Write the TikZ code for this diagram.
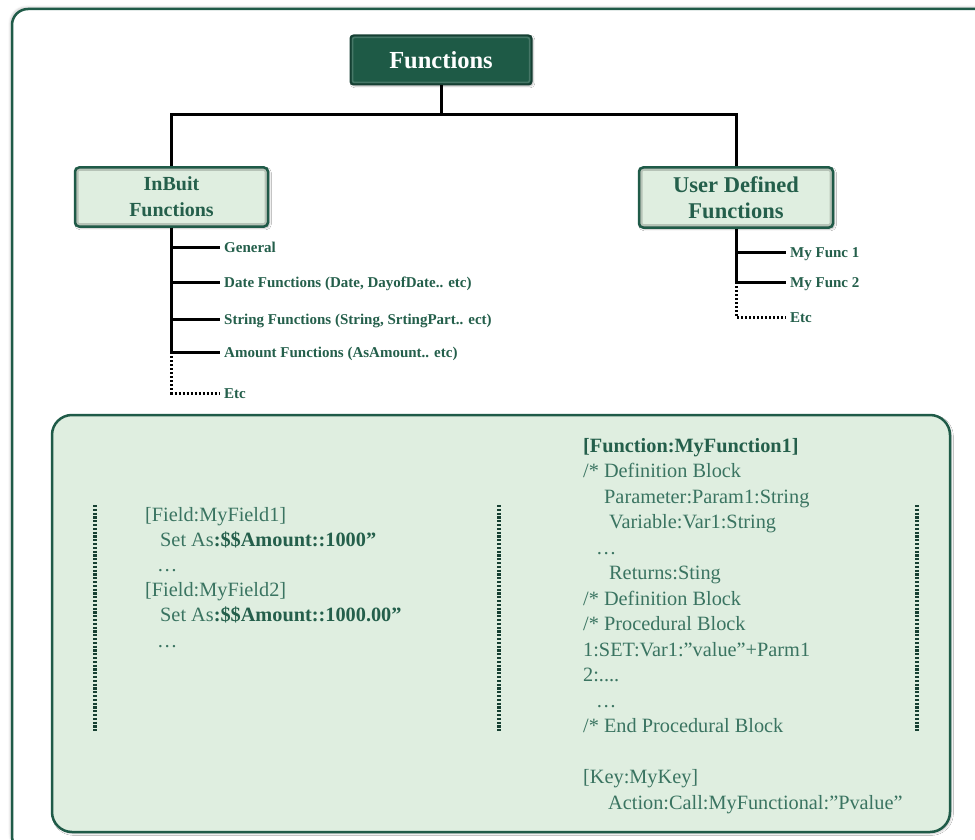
\documentclass[tikz,border=0pt]{standalone}
\usepackage{fontspec}
\setmainfont{Liberation Serif}
\usetikzlibrary{calc,shadows.blur}

\definecolor{framegreen}{HTML}{1F5B48}
\definecolor{rootfill}{HTML}{1E5A46}
\definecolor{rootedge}{HTML}{163F33}
\definecolor{paleleaf}{HTML}{DFEEE0}
\definecolor{codetext}{HTML}{3A7461}
\definecolor{boldtext}{HTML}{245F4B}

\begin{document}
\begin{tikzpicture}[x=1pt,y=-1pt,
  rootbox/.style={draw=rootedge, fill=rootfill, line width=2pt, rounded corners=3pt,
    minimum width=181pt, minimum height=49pt, inner sep=0pt, text=white,
    font=\bfseries\fontsize{24.5}{28}\selectfont,
    blur shadow={shadow xshift=1.5pt, shadow yshift=-1.5pt, shadow opacity=30}},
  groupbox/.style={draw=framegreen, fill=paleleaf, line width=2.5pt, rounded corners=4pt,
    inner sep=0pt, text=boldtext, align=center,
    blur shadow={shadow xshift=1.5pt, shadow yshift=-1.5pt, shadow opacity=30}},
  bevel/.style={draw=black, draw opacity=0.18, line width=2.5pt, rounded corners=2pt},
  highlight/.style={draw=white, draw opacity=0.18, line width=1.5pt, rounded corners=2pt},
  treeline/.style={draw=black, line width=3pt},
  dotline/.style={draw=black, line width=3pt, dash pattern=on 2.2pt off 1.8pt},
  panelsep/.style={draw=framegreen!70!black, line width=3.2pt, dash pattern=on 2.2pt off 1.6pt},
  leaf/.style={anchor=west, inner xsep=4pt, inner ysep=0pt, text height=11pt, text depth=1pt,
    text=boldtext, font=\bfseries\fontsize{15}{18}\selectfont},
  codeline/.style={anchor=base west, inner sep=0pt, text=codetext, font=\fontsize{20.3}{24}\selectfont},
  codebold/.style={text=boldtext, font=\bfseries\fontsize{20.3}{24}\selectfont}
]
\useasboundingbox (0,0) rectangle (975,840);

% outer frame
\path[draw=framegreen, fill=white, line width=2.5pt, rounded corners=16pt,
  blur shadow={shadow xshift=-2pt, shadow yshift=2pt, shadow opacity=18}]
  (12,9) rectangle (995,852);

% hierarchy boxes
\node[rootbox] (root) at (441,60) {Functions};
\draw[highlight] ([shift={(3,3)}]root.north west) rectangle ([shift={(-3,-3)}]root.south east);

\node[groupbox, minimum width=193pt, minimum height=59pt,
  font=\bfseries\fontsize{20}{26}\selectfont] (inbuilt) at (171.5,197) {InBuit\\Functions};
\draw[bevel] ([shift={(3.5,3.5)}]inbuilt.north west) rectangle ([shift={(-3.5,-3.5)}]inbuilt.south east);

\node[groupbox, minimum width=194pt, minimum height=60pt,
  font=\bfseries\fontsize{22.5}{26}\selectfont] (user) at (736,197.5) {User Defined\\Functions};
\draw[bevel] ([shift={(3.5,3.5)}]user.north west) rectangle ([shift={(-3.5,-3.5)}]user.south east);

% root to groups
\coordinate (hub) at (441,115);
\draw[treeline] (root.south) -- (hub);
\draw[treeline] (hub) -| (inbuilt.north);
\draw[treeline] (hub) -| (user.north);

% in-built function list
\node[leaf] (gen)  at (220,247) {General};
\node[leaf] (date) at (220,282) {Date Functions (Date, DayofDate.. etc)};
\node[leaf] (str)  at (220,319) {String Functions (String, SrtingPart.. ect)};
\node[leaf] (amt)  at (220,352) {Amount Functions (AsAmount.. etc)};
\node[leaf] (etc1) at (220,393) {Etc};
\draw[treeline] (inbuilt.south) |- (gen.west);
\draw[treeline] (inbuilt.south) |- (date.west);
\draw[treeline] (inbuilt.south) |- (str.west);
\draw[treeline] (inbuilt.south) |- (amt.west);
\draw[dotline] ($(inbuilt.south |- amt.west)+(0,4)$) |- (etc1.west);

% user defined function list
\node[leaf] (uf1)  at (786,252) {My Func 1};
\node[leaf] (uf2)  at (786,282) {My Func 2};
\node[leaf] (etc2) at (786,317) {Etc};
\draw[treeline] (user.south) |- (uf1.west);
\draw[treeline] (user.south) |- (uf2.west);
\draw[dotline] ($(user.south |- uf2.west)+(0,4)$) |- (etc2.west);

% code panel
\path[draw=framegreen, fill=paleleaf, line width=2.5pt, rounded corners=20pt,
  blur shadow={shadow xshift=1.5pt, shadow yshift=-1.5pt, shadow opacity=25}]
  (52,415) rectangle (950,832);
\coordinate (sepAtop) at (95,505);  \coordinate (sepAbot) at (95,732);
\coordinate (sepBtop) at (499,505); \coordinate (sepBbot) at (499,732);
\coordinate (sepCtop) at (917,505); \coordinate (sepCbot) at (917,732);
\draw[panelsep] (sepAtop) -- (sepAbot);
\draw[panelsep] (sepBtop) -- (sepBbot);
\draw[panelsep] (sepCtop) -- (sepCbot);

% field definitions
\node[codeline] (f1) at (145,521) {{[}Field:MyField1]};
\node[codeline] (f2) at (160,546) {Set As\textcolor{boldtext}{\bfseries :\$\$Amount::1000”}};
\node[codeline] (f3) at (157,571) {…};
\node[codeline] (f4) at (145,596) {{[}Field:MyField2]};
\node[codeline] (f5) at (160,621) {Set As\textcolor{boldtext}{\bfseries :\$\$Amount::1000.00”}};
\node[codeline] (f6) at (157,647) {…};

% function definition
\node[codeline, codebold] (d0) at (583,452) {{[}Function:MyFunction1]};
\node[codeline] (d1)  at (583,477.5) {/* Definition Block};
\node[codeline] (d2)  at (604,503)   {Parameter:Param1:String};
\node[codeline] (d3)  at (609,528.5) {Variable:Var1:String};
\node[codeline] (d4)  at (596,554)   {…};
\node[codeline] (d5)  at (609,579.5) {Returns:Sting};
\node[codeline] (d6)  at (583,605)   {/* Definition Block};
\node[codeline] (d7)  at (583,630.5) {/* Procedural Block};
\node[codeline] (d8)  at (583,656)   {1:SET:Var1:”value”+Parm1};
\node[codeline] (d9)  at (583,681.5) {2:....};
\node[codeline] (d10) at (596,707)   {…};
\node[codeline] (d11) at (583,732.5) {/* End Procedural Block};
\node[codeline] (d12) at (583,783.5) {{[}Key:MyKey]};
\node[codeline] (d13) at (608,809)   {Action:Call:MyFunctional:”Pvalue”};
\end{tikzpicture}
\end{document}
